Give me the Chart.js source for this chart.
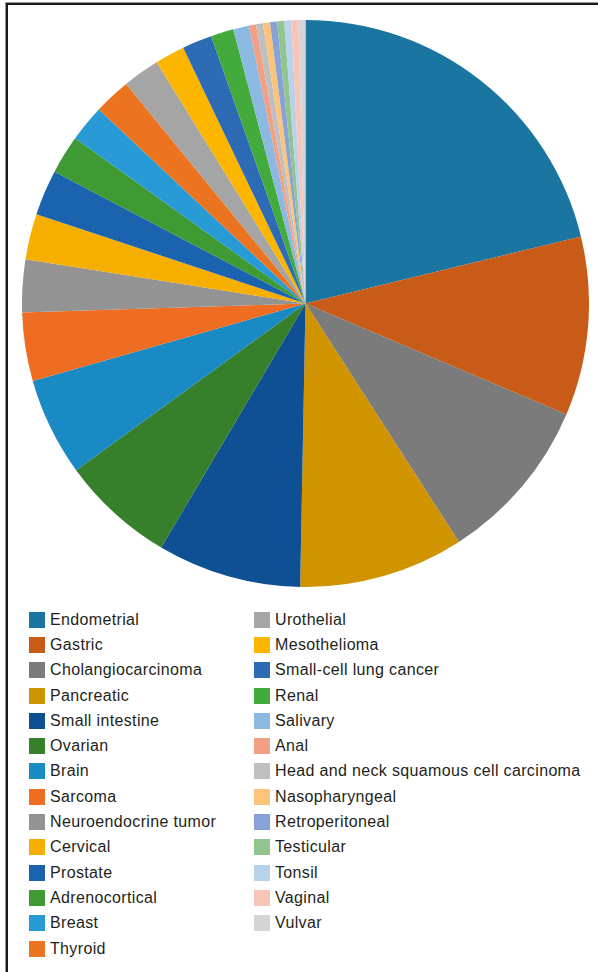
<!DOCTYPE html>
<html>
<head>
<meta charset="utf-8">
<script src="https://cdn.jsdelivr.net/npm/chart.js@4"></script>
<style>
    html, body { margin: 0; padding: 0; background: #fff; }
    body { width: 598px; height: 972px; position: relative; overflow: hidden; }
    #frame {
        position: absolute; left: 6px; top: 3px; width: 640px; height: 1000px;
        border-top: 2px solid #1a1a1a; border-left: 2px solid #1a1a1a;
        box-shadow: -1px -1px 0 #9a9a9a;
    }
    #pieWrap { position: absolute; left: 22px; top: 20px; width: 567px; height: 567px; }
    #legend {
        position: absolute; left: 29px; top: 607px;
        display: grid; grid-auto-flow: column;
        grid-template-rows: repeat(14, 25.3px);
        grid-template-columns: 225px 330px;
        font-family: "Liberation Sans", Arial, sans-serif;
        font-size: 16px; letter-spacing: 0.35px; color: #231f20;
    }
    .item { display: flex; align-items: center; white-space: nowrap; }
    .box { width: 16px; height: 16px; margin-right: 5px; flex: none; }
</style>
</head>
<body>
<div id="frame"></div>
<div id="pieWrap"><canvas id="tumorChart"></canvas></div>
<div id="legend"></div>

<script>
// tumor types, share of cases (%)
const tumorTypes = [
    'Endometrial', 'Gastric', 'Cholangiocarcinoma', 'Pancreatic', 'Small intestine',
    'Ovarian', 'Brain', 'Sarcoma', 'Neuroendocrine tumor', 'Cervical', 'Prostate',
    'Adrenocortical', 'Breast', 'Thyroid', 'Urothelial', 'Mesothelioma',
    'Small-cell lung cancer', 'Renal', 'Salivary', 'Anal',
    'Head and neck squamous cell carcinoma', 'Nasopharyngeal', 'Retroperitoneal',
    'Testicular', 'Tonsil', 'Vaginal', 'Vulvar'
];
const tumorShares = [
    21.2, 10.2, 9.5, 9.4, 8.2,
    6.5, 5.6, 3.9, 3.0, 2.6, 2.6,
    2.2, 2.1, 2.1, 2.1, 1.7,
    1.7, 1.3, 0.9, 0.4,
    0.4, 0.4, 0.4,
    0.4, 0.4, 0.4, 0.4
];
const sliceColors = [
    '#1a76a1', '#c95b18', '#7b7b7b', '#d09400', '#0f4f94',
    '#367f2b', '#1a8ac4', '#ee6d23', '#939393', '#f6ae00', '#1a63ae',
    '#3f9a34', '#289bd7', '#ec7420', '#a5a5a5', '#fcb600',
    '#2d6bb5', '#43ab3c', '#8cb9e1', '#f1a084',
    '#bfbfbf', '#fcc47a', '#86a2d6', '#91c58d', '#b9d2eb', '#f7c5b8', '#d5d5d5'
];

document.addEventListener('DOMContentLoaded', function() {
    const ctx = document.getElementById('tumorChart').getContext('2d');
    const chart = new Chart(ctx, {
        type: 'pie',
        data: {
            labels: tumorTypes,
            datasets: [{
                data: tumorShares,
                backgroundColor: sliceColors,
                borderWidth: 0
            }]
        },
        options: {
            responsive: true,
            maintainAspectRatio: false,
            animation: false,
            layout: { padding: 0 },
            plugins: {
                legend: { display: false },
                tooltip: { enabled: false }
            }
        }
    });

    // legend in two columns, filled top to bottom
    const legend = document.getElementById('legend');
    chart.options.plugins.legend.labels.generateLabels(chart).forEach(item => {
        const row = document.createElement('div');
        row.className = 'item';
        row.innerHTML = `<span class="box" style="background:${item.fillStyle}"></span>${item.text}`;
        legend.appendChild(row);
    });
});
</script>
</body>
</html>
